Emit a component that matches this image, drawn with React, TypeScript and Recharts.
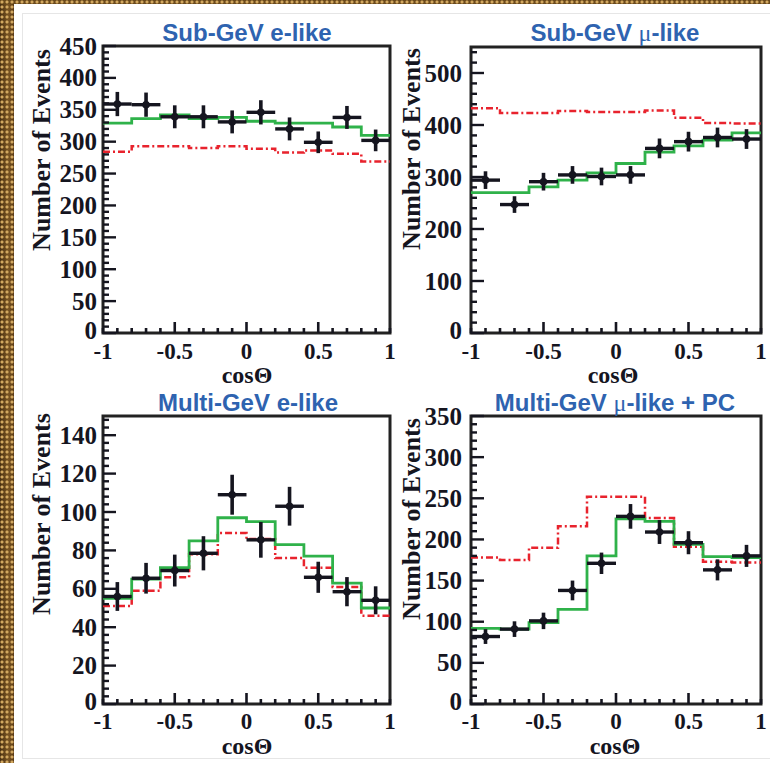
import React from 'react';
import { ComposedChart, Line, Scatter, XAxis, YAxis, ErrorBar, ReferenceArea } from 'recharts';

// ---------- shared binning ----------
const binEdges = [-1, -0.8, -0.6, -0.4, -0.2, 0, 0.2, 0.4, 0.6, 0.8, 1];
const binCenters = [-0.9, -0.7, -0.5, -0.3, -0.1, 0.1, 0.3, 0.5, 0.7, 0.9];
const binHalfWidth = 0.1;

const xTickValues = [-1, -0.9, -0.8, -0.7, -0.6, -0.5, -0.4, -0.3, -0.2, -0.1, 0, 0.1, 0.2, 0.3, 0.4, 0.5, 0.6, 0.7, 0.8, 0.9, 1];
const xLabelValues = [-1, -0.5, 0, 0.5, 1];
const xLabelTexts = ['-1', '-0.5', '0', '0.5', '1'];
const xTitle = 'cosΘ';
const yTitle = 'Number of Events';

// ---------- Sub-GeV e-like ----------
const subETitle = 'Sub-GeV e-like';
const subEData = [359, 358, 339, 339, 331, 346, 320, 299, 338, 302];
const subEErr = [19, 19, 18, 18, 18, 19, 18, 17, 18, 17];
const subEOsc = [329, 336, 342, 336, 338, 332, 329, 329, 323, 310];
const subENoOsc = [284, 293, 293, 290, 293, 289, 283, 286, 281, 269];
const subEYLabels = [0, 50, 100, 150, 200, 250, 300, 350, 400, 450];

// ---------- Sub-GeV mu-like ----------
const subMuTitle = 'Sub-GeV μ-like';
const subMuData = [294, 247, 291, 304, 301, 304, 355, 368, 376, 373];
const subMuErr = [17, 16, 17, 17, 17, 17, 19, 19, 19, 19];
const subMuOsc = [270, 270, 281, 294, 308, 326, 348, 360, 371, 385];
const subMuNoOsc = [432, 423, 423, 427, 425, 425, 428, 414, 404, 403];
const subMuYLabels = [0, 100, 200, 300, 400, 500];

// ---------- Multi-GeV e-like ----------
const mulETitle = 'Multi-GeV e-like';
const mulEData = [56, 65.5, 69.5, 78.5, 109, 85.5, 103, 66, 58.5, 54];
const mulEErr = [7.5, 8, 8.3, 8.9, 10.4, 9.3, 10.1, 8.1, 7.6, 7.3];
const mulEOsc = [55, 65, 71, 85, 97, 95, 83, 77, 63, 50];
const mulENoOsc = [51, 59, 66, 78, 89, 86, 76, 71, 61, 46];
const mulEYLabels = [0, 20, 40, 60, 80, 100, 120, 140];

// ---------- Multi-GeV mu-like + PC ----------
const mulMuTitle = 'Multi-GeV μ-like + PC';
const mulMuData = [82, 91, 101, 138, 171, 228, 209, 196, 163, 180];
const mulMuErr = [9, 9.5, 10, 12, 13, 15, 14.5, 14, 12.8, 13.4];
const mulMuOsc = [92, 91, 99, 115, 180, 225, 222, 194, 179, 178];
const mulMuNoOsc = [178, 175, 190, 216, 252, 252, 226, 191, 173, 172];
const mulMuYLabels = [0, 50, 100, 150, 200, 250, 300, 350];

const W = 770;
const H = 763;
const AXW = 60;
const AXH = 40;
const INK = '#15151f';
const GREEN = '#2fb24a';
const RED = '#e8232d';
const BLUE = '#2e63b0';
const SERIF = '"Liberation Serif", "Times New Roman", serif';
const SANS = '"Liberation Sans", Arial, sans-serif';

const panels = [
  {
    title: subETitle, data: subEData, err: subEErr, osc: subEOsc, noOsc: subENoOsc,
    yMax: 450, yLabels: subEYLabels, yMinor: 10,
    l: 103, t: 46, r: 390, b: 333, yGap: 6, xGap: 18,
    titleX: 247, titleY: 33, yTitleX: 42, yTitleY: 150, xTitleX: 247, xTitleY: 375,
  },
  {
    title: subMuTitle, data: subMuData, err: subMuErr, osc: subMuOsc, noOsc: subMuNoOsc,
    yMax: 550, yLabels: subMuYLabels, yMinor: 20,
    l: 471, t: 47, r: 761, b: 333, yGap: 9, xGap: 18,
    titleX: 615, titleY: 33, yTitleX: 412, yTitleY: 149, xTitleX: 613, xTitleY: 375,
  },
  {
    title: mulETitle, data: mulEData, err: mulEErr, osc: mulEOsc, noOsc: mulENoOsc,
    yMax: 150, yLabels: mulEYLabels, yMinor: 4,
    l: 103, t: 416, r: 390, b: 704, yGap: 6, xGap: 17,
    titleX: 248, titleY: 403, yTitleX: 42, yTitleY: 514, xTitleX: 247, xTitleY: 746,
  },
  {
    title: mulMuTitle, data: mulMuData, err: mulMuErr, osc: mulMuOsc, noOsc: mulMuNoOsc,
    yMax: 350, yLabels: mulMuYLabels, yMinor: 10,
    l: 471, t: 416, r: 761, b: 704, yGap: 9, xGap: 17,
    titleX: 615, titleY: 403, yTitleX: 412, yTitleY: 519, xTitleX: 615, xTitleY: 746,
  },
];

function range(max: number, step: number) {
  const out: number[] = [];
  for (let v = 0; v <= max + 1e-9; v += step) out.push(Math.round(v * 1000) / 1000);
  return out;
}

const makeXTick = (gap: number) => (props: any) => {
  const { x, y, payload } = props;
  const v = payload.value;
  const idx = xLabelValues.indexOf(v);
  const big = v === -0.5 || v === 0 || v === 0.5;
  const len = big ? 11 : 5;
  return (
    <g>
      <line x1={x} x2={x} y1={y} y2={y - len} stroke={INK} strokeWidth={2.6} />
      {idx >= 0 && (
        <text x={x} y={y + gap} textAnchor="middle" dominantBaseline="central"
          fontFamily={SERIF} fontWeight="bold" fontSize={23} fill={INK}>
          {xLabelTexts[idx]}
        </text>
      )}
    </g>
  );
};

const makeYTick = (labels: number[], gap: number) => (props: any) => {
  const { x, y, payload } = props;
  const v = payload.value;
  const major = labels.indexOf(v) >= 0;
  const len = major ? 13 : 6;
  return (
    <g>
      <line x1={x} x2={x + len} y1={y} y2={y} stroke={INK} strokeWidth={2.4} />
      {major && (
        <text x={x - gap} y={v === 0 ? y - 3 : y} textAnchor="end" dominantBaseline="central"
          fontFamily={SERIF} fontWeight="bold" fontSize={25} fill={INK}>
          {v}
        </text>
      )}
    </g>
  );
};

const Dot = (props: any) => {
  const { cx, cy } = props;
  return <circle cx={cx} cy={cy} r={3.8} fill={INK} />;
};

function Panel({ p }: { p: any }) {
  const points = binCenters.map((x, i) => ({ x, y: p.data[i], ey: p.err[i], ex: binHalfWidth }));
  const oscLine = binEdges.map((x, i) => ({ x, v: p.osc[Math.min(i, p.osc.length - 1)] }));
  const nullLine = binEdges.map((x, i) => ({ x, v: p.noOsc[Math.min(i, p.noOsc.length - 1)] }));
  const yTicks = range(p.yMax, p.yMinor);
  return (
    <div style={{ position: 'absolute', left: 0, top: 0 }}>
      <ComposedChart width={W} height={H}
        margin={{ left: p.l - AXW, top: p.t, right: W - p.r, bottom: H - p.b - AXH }}>
        <XAxis dataKey="x" type="number" domain={[-1, 1]} ticks={xTickValues} interval={0}
          tick={makeXTick(p.xGap)} tickLine={false} axisLine={false} height={AXH}
          tickSize={0} tickMargin={0} allowDataOverflow />
        <YAxis type="number" domain={[0, p.yMax]} ticks={yTicks} interval={0}
          tick={makeYTick(p.yLabels, p.yGap)} tickLine={false} axisLine={false} width={AXW}
          tickSize={0} tickMargin={0} allowDataOverflow />
        <Line data={nullLine} dataKey="v" type="stepAfter" stroke={RED} strokeWidth={2.5}
          strokeDasharray="7 3 2 3" dot={false} isAnimationActive={false} />
        <Line data={oscLine} dataKey="v" type="stepAfter" stroke={GREEN} strokeWidth={2.8}
          dot={false} isAnimationActive={false} />
        <Scatter data={points} dataKey="y" fill={INK} shape={<Dot />} isAnimationActive={false}>
          <ErrorBar dataKey="ey" direction="y" width={0} stroke={INK} strokeWidth={3.6} />
          <ErrorBar dataKey="ex" direction="x" width={0} stroke={INK} strokeWidth={3.4} />
        </Scatter>
        <ReferenceArea x1={-1} x2={1} y1={0} y2={p.yMax} fill="none" fillOpacity={0}
          stroke="#222" strokeWidth={3} ifOverflow="visible" />
      </ComposedChart>
    </div>
  );
}

const absText = (cx: number, cy: number, extra: any) => ({
  position: 'absolute' as const,
  left: cx,
  top: cy,
  transform: 'translate(-50%, -50%)',
  whiteSpace: 'nowrap' as const,
  lineHeight: 1,
  ...extra,
});

function renderTitle(t: string) {
  const i = t.indexOf('μ');
  if (i < 0) return t;
  return (
    <>
      {t.slice(0, i)}
      <span style={{ fontFamily: SERIF, fontWeight: 'normal' }}>μ</span>
      {t.slice(i + 1)}
    </>
  );
}

export default function App() {
  return (
    <div style={{ position: 'absolute', left: 0, top: 0, width: W, height: H, background: '#fff', overflow: 'hidden' }}>
      {/* decorative frame */}
      <div style={{
        position: 'absolute', left: 0, top: 0, width: 14, height: H,
        background: 'radial-gradient(circle at 2px 2px, #d2a860 1px, transparent 2px) 0 0/5px 5px, linear-gradient(90deg, #4a3010, #7a5524 60%, #5a3a14)',
      }} />
      <div style={{
        position: 'absolute', left: 0, top: 0, width: W, height: 4,
        background: 'radial-gradient(circle at 2px 2px, #d2a860 1px, transparent 2px) 0 0/5px 5px, #6a4a1c',
      }} />
      <div style={{ position: 'absolute', left: 22, top: 13, width: W, height: 744, border: '1px solid #e6e6e6' }} />

      {panels.map((p, i) => <Panel key={i} p={p} />)}

      {panels.map((p, i) => (
        <React.Fragment key={'t' + i}>
          <div style={absText(p.titleX, p.titleY, { fontFamily: SANS, fontWeight: 'bold', fontSize: 24, color: BLUE })}>
            {renderTitle(p.title)}
          </div>
          <div style={{ ...absText(p.yTitleX, p.yTitleY, { fontFamily: SERIF, fontWeight: 'bold', fontSize: 26, color: INK }), transform: 'translate(-50%, -50%) rotate(-90deg)' }}>
            {yTitle}
          </div>
          <div style={absText(p.xTitleX, p.xTitleY, { fontFamily: SERIF, fontWeight: 'bold', fontSize: 24, color: INK })}>
            {xTitle}
          </div>
        </React.Fragment>
      ))}
    </div>
  );
}
